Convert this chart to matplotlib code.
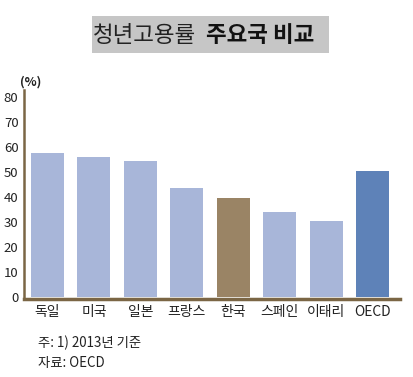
import matplotlib
matplotlib.use("Agg")
import matplotlib.pyplot as plt
from matplotlib.patches import Rectangle

plt.rcParams['font.family'] = ['Noto Sans CJK KR', 'DejaVu Sans']

countries = ["독일", "미국", "일본", "프랑스", "한국", "스페인", "이태리", "OECD"]
rates = [57.5, 56.0, 54.4, 43.6, 39.6, 34.0, 30.4, 50.4]
bar_colors = ["#A8B6D9", "#A8B6D9", "#A8B6D9", "#A8B6D9", "#9A8465",
              "#A8B6D9", "#A8B6D9", "#5E82B8"]
yticks = [0, 10, 20, 30, 40, 50, 60, 70, 80]


def main():
    fig = plt.figure(figsize=(4.14, 3.77), dpi=100)
    ax = fig.add_axes([24 / 414, 1 - 299 / 377, 376 / 414, 209 / 377])

    ax.bar(range(len(countries)), rates, width=0.71, color=bar_colors)
    ax.set_xlim(-0.505, 7.59)
    ax.set_ylim(-0.8, 82.8)
    ax.set_yticks(yticks)
    ax.set_yticklabels([str(v) for v in yticks], fontsize=9.5, color="#222222")
    ax.set_xticks(range(len(countries)))
    ax.set_xticklabels(countries, fontsize=10, color="#222222")
    ax.tick_params(axis='both', length=0)
    ax.tick_params(axis='x', pad=4)
    ax.tick_params(axis='y', pad=4)

    for side in ["top", "right"]:
        ax.spines[side].set_visible(False)
    ax.spines["left"].set_color("#7B6645")
    ax.spines["left"].set_linewidth(1.8)
    ax.spines["bottom"].set_color("#7B6645")
    ax.spines["bottom"].set_linewidth(2.5)

    # title box
    fig.patches.append(Rectangle((92 / 414, 1 - 53 / 377), 237 / 414, 37 / 377,
                                 transform=fig.transFigure, facecolor="#C6C6C6",
                                 edgecolor="none", zorder=0))
    fig.text(93 / 414, 1 - 35 / 377, "청년고용률", fontsize=16.2, va="center",
             ha="left", color="#222222")
    fig.text(206 / 414, 1 - 35 / 377, "주요국 비교", fontsize=16.2, va="center",
             ha="left", fontweight="bold", color="#111111")

    fig.text(20 / 414, 1 - 82 / 377, "(%)", fontsize=9, va="center", ha="left",
             fontweight="bold", color="#222222")

    fig.text(38 / 414, 1 - 343 / 377, "주: 1) 2013년 기준", fontsize=9.6,
             va="center", ha="left", color="#222222")
    fig.text(38 / 414, 1 - 363 / 377, "자료: OECD", fontsize=9.6,
             va="center", ha="left", color="#222222")

    fig.savefig("out.png", dpi=100)


main()
